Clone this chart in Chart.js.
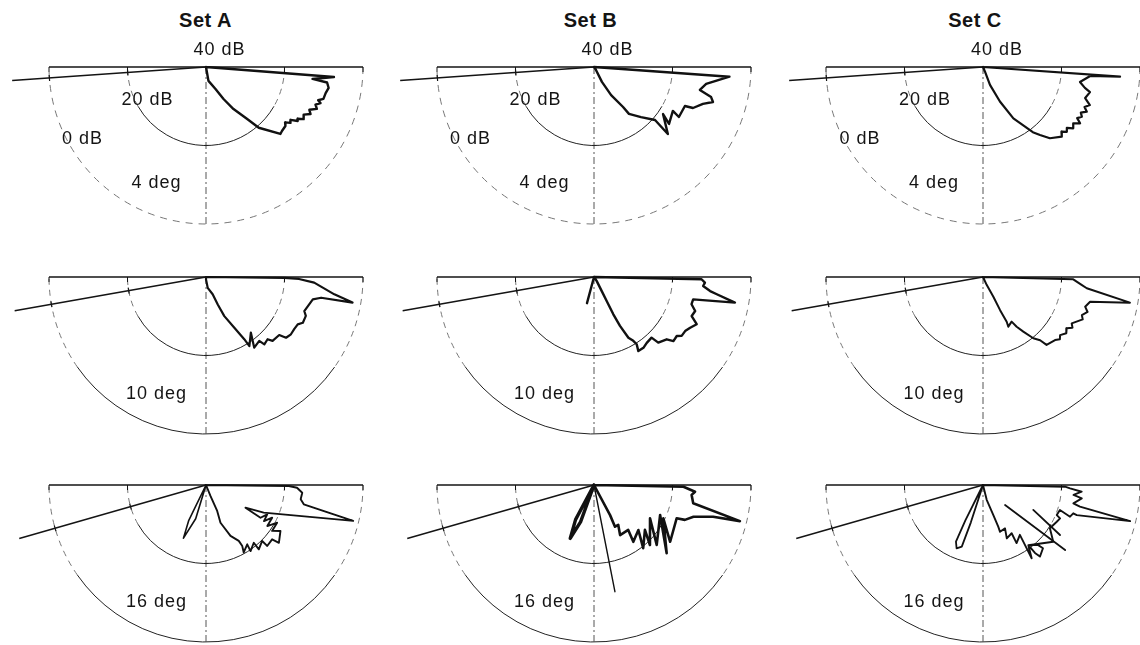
<!DOCTYPE html>
<html>
<head>
<meta charset="utf-8">
<script src="https://cdn.jsdelivr.net/npm/chart.js@4.4.1/dist/chart.umd.min.js"></script>
<style>
  html, body { margin: 0; padding: 0; background: #fff; width: 1140px; height: 645px; overflow: hidden; }
  #stage { position: relative; width: 1140px; height: 645px; }
  #stage canvas { position: absolute; }
  .t { position: absolute; font-family: "Liberation Sans", Arial, Helvetica, sans-serif; color: #141414;
       white-space: nowrap; transform: translate(-50%, -50%); line-height: 1; }
  .title { font-weight: bold; font-size: 20px; letter-spacing: 0.5px; }
  .lab { font-size: 18px; letter-spacing: 1px; }
</style>
</head>
<body>
<div id="stage"></div>
<script>
// Radial level axis: 40 dB at the centre, 20 dB on the inner ring, 0 dB on the outer ring.
const topLevel = 40;
const ringLevels = [20, 0];
const setNames = ['Set A', 'Set B', 'Set C'];
const grazingAngles = [4, 10, 16];            // deg, one per row
const levelLabels = ['40 dB', '20 dB', '0 dB'];

// Each curve is a list of [angle in deg below the right-hand horizontal, level in dB].
const setA_4 = [[4,40],[4.5,7.3],[6.4,12.7],[7.3,8.9],[9.7,8.3],[12.3,8.8],[15.2,9.0],[16.5,10.2],[17.5,9.4],
  [19,10.5],[20.7,9.8],[22.5,11.5],[24.2,10.8],[26,12.3],[28.1,11.8],[29.5,13.2],[30.5,12.9],[32,14.6],
  [33.5,14.2],[35,15.4],[36.6,14.8],[40.1,14.7],[42,14.5],[49,19.5],[51.6,23.1],[56.8,27.2],[61.3,30.7],
  [66.6,33.9],[80,36.4],[80,40]];
const setB_4 = [[4,40],[4.1,5.4],[8.6,11.1],[12.2,12.4],[14.4,9.2],[16.4,8.4],[18.7,10.7],[22.5,12.7],
  [23.2,14.8],[30.5,14.9],[29.1,17.0],[37.2,16.0],[34.3,18.7],[42.2,14.6],[41,19.4],[46.8,22.5],[53.3,25.1],
  [54,27.4],[58.7,31.6],[62,35.7],[56,39.1],[56,40]];
const setC_4 = [[4,40],[4.0,5.0],[4.8,12.6],[8.8,15.0],[11.6,13.5],[13.2,12.0],[16.9,12.8],[19.6,11.1],
  [21.5,12.2],[23.3,11.2],[25,12.5],[26.7,11.8],[28.5,12.7],[30.1,11.4],[32,12.9],[34.2,12.2],[36,13.6],
  [37.7,13.0],[39.5,14.1],[41.5,13.2],[46.8,15.1],[50,17.4],[52.6,19.1],[59.4,24.8],[63.9,30.2],[68.7,35.1],
  [67,38.7],[67,40]];

const setA_10 = [[0,40],[0.7,20.0],[1.2,16.3],[3.0,12.4],[7.7,7.0],[9.9,2.1],[10.2,10.2],[11.8,12.2],[15.9,13.0],
  [19.1,13.5],[21.3,12.7],[25.3,12.7],[27.3,13.7],[30.6,13.9],[34,13.9],[37.2,14.4],[38.4,16.2],[43.8,16.5],
  [45.3,17.7],[49.1,17.3],[50.2,18.8],[55.7,18.2],[51.1,21.8],[57.9,19.2],[58.4,21.4],[60.8,25.2],[64.9,29.0],
  [66.8,32.4],[68.8,35.3],[81,37.2],[90,39.4],[90,40]];
const setB_10 = [[105,33.1],[0,40],[1.2,12.6],[2.9,11.7],[4.7,12.1],[6.9,10.2],[8.0,8.4],[10.3,3.5],[12.7,14.1],
  [15.6,14.2],[18.6,12.8],[21.8,13.2],[24.7,11.2],[27.8,12.3],[30.7,13.0],[33.9,13.1],[35.5,14.1],[38.9,14.0],
  [40.6,15.6],[45.6,16.6],[46.5,18.7],[51.3,18.5],[55.1,18.0],[59.1,18.0],[57.6,19.7],[58.4,20.9],[60.5,22.2],
  [62,25.9],[62.6,29.3],[62.1,33.1],[61.2,35.9],[56,38.8],[56,40]];
const setC_10 = [[0,40],[1.5,17.0],[4.6,14.8],[6.2,13.4],[9.9,2.0],[13,12.0],[16.2,12.9],[18.5,11.9],[21.1,13.0],
  [23,12.4],[25.5,13.6],[27.6,14.5],[29.5,13.8],[31.5,15.0],[34,14.4],[37,15.4],[39,14.8],[41.2,15.6],[46.9,16.3],
  [47.9,18.3],[50.6,19.8],[53.6,22.7],[55.9,24.7],[57.3,26.5],[63,25.8],[62.1,27.1],[62.7,30.5],[62.4,34.3],
  [65,37.8],[65,40]];

const setA_16_lobe = [[116,40],[116,30],[113,25.3],[107,31],[107,40]];
const setA_16 = [[0,40],[0.7,18.9],[1.7,16.8],[4.6,15.4],[8.6,15.6],[11.2,14.6],[13.7,1.4],[25.6,23.7],[29.9,28.4],
  [31,23.8],[25.6,22.7],[31.9,22.6],[26.3,21.2],[33.8,21.2],[27.9,19.5],[34.8,19.5],[31.7,17.7],[38.4,16.3],
  [39.4,18.2],[44.9,18.0],[44.9,19.8],[50.6,18.8],[50.4,20.9],[56,19.7],[55.2,21.6],[60.8,20.3],[59.3,21.9],
  [59.6,23.5],[64.3,25.6],[69,29.7],[66.7,32.8],[67.8,37.0],[67.8,40]];
const setB_16_lobe = [[118,40],[118,30],[114,25.1],[110,30],[110,40]];
const setB_16_spike = [[79,40],[78.9,12.3]];
const setB_16 = [[62,40],[61.9,31.3],[63.3,28.1],[58.7,28.1],[62.5,25.6],[52.7,25.6],[55.3,22.4],[45.4,23.9],
  [52.1,19.6],[41.4,22.7],[47,19.1],[30.7,23.4],[43.7,17.9],[24.4,21.5],[43.2,14.6],[25.7,20.4],[36.7,15.8],
  [21.9,17.3],[21,15.2],[17.7,13.4],[14.9,8.6],[13.9,1.7],[10.4,14.3],[5.8,15.0],[3.8,14.2],[1.1,17.2],[0,40]];
const setC_16_lobe = [[116,40],[116.5,30],[115.5,24],[112.6,22.5],[109,23.4],[108,30],[108,40]];
const setC_16 = [[0,40],[76,36.1],[71,31.9],[69.9,28.7],[70,27.3],[63.1,27.6],[66,25.1],[59.3,25.7],[60,22.9],
  [53.5,24.2],[55.4,20.4],[56.4,17.6],[53,20.8],[52.6,18.2],[51.5,16.7],[46.5,17.8],[47.5,19.3],[53,20.8],
  [38.9,17.0],[32.9,19.7],[26.5,19.0],[23.4,18.6],[22.2,19.7],[18,19.4],[20,16.4],[17.4,15.9],[17.8,14.9],
  [13.8,1.4],[12.6,14.7],[11.5,16.5],[7.7,14.6],[6.3,16.8],[3.9,14.8],[2.2,17.8],[1.2,19.1],[0,40]];
const setC_16_diag1 = [[42.3,32.4],[38.4,13.3]];
const setC_16_diag2 = [[26.4,25.7],[33,16.6]];

// Panel layout on the page
const colCentres = [205.5, 593.5, 983];
const rowCentres = [66.5, 276.5, 484.5];
const pxPerDb = 157 / 40;
const canvasW = 400, canvasH = 185, originX = 210, originY = 14;

const panels = [
  { row: 0, col: 0, curves: [[setA_4, 2.4]] },
  { row: 0, col: 1, curves: [[setB_4, 2.4]] },
  { row: 0, col: 2, curves: [[setC_4, 2.2]] },
  { row: 1, col: 0, curves: [[setA_10, 2.2]] },
  { row: 1, col: 1, curves: [[setB_10, 2.4]] },
  { row: 1, col: 2, curves: [[setC_10, 2.0]] },
  { row: 2, col: 0, curves: [[setA_16_lobe, 1.6], [setA_16, 1.9]] },
  { row: 2, col: 1, curves: [[setB_16_lobe, 3.4], [setB_16_spike, 1.4], [setB_16, 2.6]] },
  { row: 2, col: 2, curves: [[setC_16_lobe, 1.8], [setC_16, 1.9], [setC_16_diag1, 1.8], [setC_16_diag2, 1.8]] }
];

function toXY(pairs) {
  return pairs.map(([ang, lev]) => {
    const r = topLevel - lev;
    const t = ang * Math.PI / 180;
    return { x: r * Math.cos(t), y: -r * Math.sin(t) };
  });
}

// Half-polar frame: rings, baseline, vertical reference and the grazing-angle line.
const polarFrame = {
  id: 'polarFrame',
  beforeDatasetsDraw(chart, args, opts) {
    const { ctx } = chart;
    const xs = chart.scales.x, ys = chart.scales.y;
    const cx = xs.getPixelForValue(0), cy = ys.getPixelForValue(0);
    const rad = lev => xs.getPixelForValue(topLevel - lev) - cx;
    const d2r = Math.PI / 180;
    ctx.save();
    ctx.lineCap = 'butt';

    ringLevels.forEach(lev => {
      const r = rad(lev);
      const allFaint = opts.faintOuter && lev === 0;
      const a1 = lev === 0 ? 35 : 30, a2 = lev === 0 ? 145 : 150;
      ctx.lineWidth = 1;
      if (allFaint) {
        ctx.strokeStyle = '#777'; ctx.setLineDash([7, 6]);
        ctx.beginPath(); ctx.arc(cx, cy, r, 0, Math.PI); ctx.stroke();
      } else {
        ctx.strokeStyle = '#222'; ctx.setLineDash([]);
        ctx.beginPath(); ctx.arc(cx, cy, r, a1 * d2r, a2 * d2r); ctx.stroke();
        ctx.strokeStyle = '#777'; ctx.setLineDash([6, 5]);
        ctx.beginPath(); ctx.arc(cx, cy, r, 0, a1 * d2r); ctx.stroke();
        ctx.beginPath(); ctx.arc(cx, cy, r, a2 * d2r, Math.PI); ctx.stroke();
      }
    });

    // vertical reference
    ctx.setLineDash([7, 3, 2, 3]);
    ctx.strokeStyle = '#555'; ctx.lineWidth = 1;
    ctx.beginPath(); ctx.moveTo(cx, cy); ctx.lineTo(cx, cy + rad(0)); ctx.stroke();
    ctx.setLineDash([]);
    ctx.strokeStyle = '#222';
    ctx.beginPath(); ctx.moveTo(cx - 2.5, cy + rad(20)); ctx.lineTo(cx + 2.5, cy + rad(20)); ctx.stroke();

    // baseline
    ctx.strokeStyle = '#141414'; ctx.lineWidth = 1.6;
    ctx.beginPath(); ctx.moveTo(cx - rad(0), cy); ctx.lineTo(cx + rad(0), cy); ctx.stroke();
    ctx.lineWidth = 1;
    [-rad(0), -rad(20), rad(20), rad(0)].forEach(dx => {
      ctx.beginPath(); ctx.moveTo(cx + dx, cy); ctx.lineTo(cx + dx, cy + 5); ctx.stroke();
    });

    // grazing-angle line, running out past the outer ring
    const phi = (180 - opts.grazing) * d2r;
    const ux = Math.cos(phi), uy = Math.sin(phi);
    const len = rad(-9.5);
    ctx.strokeStyle = '#141414'; ctx.lineWidth = 1.5;
    ctx.beginPath(); ctx.moveTo(cx, cy); ctx.lineTo(cx + len * ux, cy + len * uy); ctx.stroke();
    ctx.lineWidth = 1.2;
    ringLevels.forEach(lev => {
      const r = rad(lev);
      const px = cx + r * ux, py = cy + r * uy;
      ctx.beginPath(); ctx.moveTo(px - 3 * uy, py + 3 * ux); ctx.lineTo(px + 3 * uy, py - 3 * ux); ctx.stroke();
    });
    ctx.restore();
  }
};

const stage = document.getElementById('stage');

function addText(txt, cls, x, y) {
  const el = document.createElement('div');
  el.className = 't ' + cls;
  el.textContent = txt;
  el.style.left = x + 'px';
  el.style.top = y + 'px';
  stage.appendChild(el);
}

panels.forEach(p => {
  const X = colCentres[p.col], Y = rowCentres[p.row];
  const cv = document.createElement('canvas');
  cv.width = canvasW; cv.height = canvasH;
  cv.style.width = canvasW + 'px'; cv.style.height = canvasH + 'px';
  cv.style.left = (X - originX) + 'px';
  cv.style.top = (Y - originY) + 'px';
  stage.appendChild(cv);

  new Chart(cv, {
    type: 'scatter',
    data: {
      datasets: p.curves.map(([pairs, w]) => ({
        data: toXY(pairs),
        showLine: true,
        borderColor: '#111',
        borderWidth: w,
        borderJoinStyle: 'round',
        borderCapStyle: 'round',
        pointRadius: 0,
        pointHoverRadius: 0,
        fill: false,
        tension: 0
      }))
    },
    options: {
      responsive: false,
      maintainAspectRatio: false,
      animation: false,
      events: [],
      layout: { padding: 0 },
      plugins: {
        legend: { display: false },
        tooltip: { enabled: false },
        polarFrame: { grazing: grazingAngles[p.row], faintOuter: p.row === 0 }
      },
      scales: {
        x: { type: 'linear', display: false, min: -originX / pxPerDb, max: (canvasW - originX) / pxPerDb },
        y: { type: 'linear', display: false, min: -(canvasH - originY) / pxPerDb, max: originY / pxPerDb }
      }
    },
    plugins: [polarFrame]
  });
});

// Titles and labels
const titleShift = [0, -3, -8];
setNames.forEach((n, i) => addText(n, 'title', colCentres[i] + titleShift[i], 19.5));
colCentres.forEach(X => {
  const Y = rowCentres[0];
  addText(levelLabels[0], 'lab', X + 14, Y - 17.5);
  addText(levelLabels[1], 'lab', X - 58, Y + 32);
  addText(levelLabels[2], 'lab', X - 123, Y + 71);
});
rowCentres.forEach((Y, r) => {
  colCentres.forEach(X => addText(grazingAngles[r] + ' deg', 'lab', X - 49, Y + (r === 0 ? 115 : 116)));
});
</script>
</body>
</html>
